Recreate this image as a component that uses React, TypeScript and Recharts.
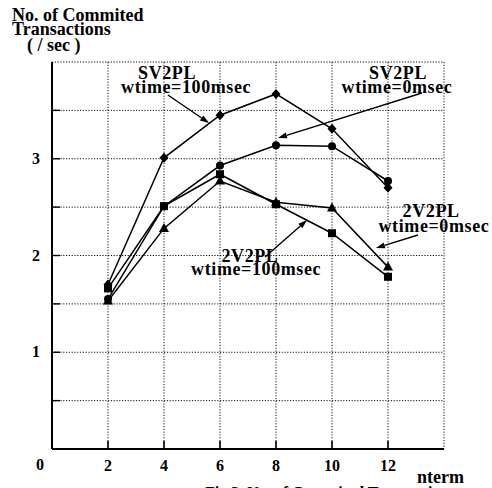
import { LineChart, Line, XAxis, YAxis, CartesianGrid, ReferenceLine, ReferenceDot } from 'recharts';

// values
const nterm = [2, 4, 6, 8, 10, 12];
const sv2pl100 = [1.7, 3.01, 3.45, 3.67, 3.31, 2.7];
const sv2pl0 = [1.55, 2.51, 2.93, 3.14, 3.13, 2.77];
const v2pl100 = [1.66, 2.51, 2.84, 2.53, 2.23, 1.78];
const v2pl0 = [1.53, 2.28, 2.77, 2.55, 2.49, 1.88];

const xTicks = [0, 2, 4, 6, 8, 10, 12, 14];
const yTicks = [0, 0.5, 1, 1.5, 2, 2.5, 3, 3.5, 4];
const yLabels = [1, 2, 3];

// annotation text lines, in data coordinates (middle of baseline)
const notes = [
  { text: 'SV2PL', x: 4.11, y: 3.824 },
  { text: 'wtime=100msec', x: 4.79, y: 3.68 },
  { text: 'SV2PL', x: 12.36, y: 3.824 },
  { text: 'wtime=0msec', x: 12.32, y: 3.68 },
  { text: '2V2PL', x: 13.54, y: 2.398 },
  { text: 'wtime=0msec', x: 13.64, y: 2.243 },
  { text: '2V2PL', x: 7.07, y: 1.932 },
  { text: 'wtime=100msec', x: 7.29, y: 1.798 },
];

const arrows = [
  [{ x: 4.14, y: 3.659 }, { x: 5.61, y: 3.369 }],
  [{ x: 13.21, y: 3.68 }, { x: 8.07, y: 3.214 }],
  [{ x: 13.07, y: 2.212 }, { x: 11.57, y: 2.078 }],
  [{ x: 7.61, y: 1.984 }, { x: 9.11, y: 2.367 }],
];

const data = nterm.map((n, i) => ({
  n,
  sv2pl100: sv2pl100[i],
  sv2pl0: sv2pl0[i],
  v2pl100: v2pl100[i],
  v2pl0: v2pl0[i],
}));

const FONT = '"Liberation Serif", "Times New Roman", serif';

const Diamond = ({ cx, cy }: any) => (
  <polygon points={`${cx},${cy - 5} ${cx + 4.5},${cy} ${cx},${cy + 5} ${cx - 4.5},${cy}`} fill="#000" />
);
const Dot = ({ cx, cy }: any) => <circle cx={cx} cy={cy} r={4} fill="#000" />;
const Square = ({ cx, cy }: any) => <rect x={cx - 4} y={cy - 4} width={8} height={8} fill="#000" />;
const Triangle = ({ cx, cy }: any) => (
  <polygon points={`${cx},${cy - 5.5} ${cx + 5},${cy + 3.5} ${cx - 5},${cy + 3.5}`} fill="#000" />
);

const XTick = ({ x, y, payload }: any) => {
  const v = payload.value;
  if (v === 14) return null;
  if (v === 0) {
    return (
      <text x={x - 12} y={y + 21} textAnchor="middle" fontFamily={FONT} fontWeight="bold" fontSize={16}>
        0
      </text>
    );
  }
  return (
    <g>
      <line x1={x} y1={y} x2={x} y2={y - 8} stroke="#000" strokeWidth={1.6} />
      <text x={x} y={y + 22} textAnchor="middle" fontFamily={FONT} fontWeight="bold" fontSize={16}>
        {v}
      </text>
    </g>
  );
};

const YTick = ({ x, y, payload }: any) => {
  const v = payload.value;
  if (v === 0 || v === 4) return null;
  return (
    <g>
      <line x1={x} y1={y} x2={x + 8} y2={y} stroke="#000" strokeWidth={1.4} />
      {yLabels.includes(v) && (
        <text x={x - 16} y={y + 5} textAnchor="middle" fontFamily={FONT} fontWeight="bold" fontSize={16}>
          {v}
        </text>
      )}
    </g>
  );
};

const Arrow = (props: any) => {
  const { x1, y1, x2, y2 } = props;
  if ([x1, y1, x2, y2].some((v) => typeof v !== 'number')) return null;
  const a = Math.atan2(y2 - y1, x2 - x1);
  const L = 9;
  const W = 3;
  const bx = x2 - L * Math.cos(a);
  const by = y2 - L * Math.sin(a);
  const px = -Math.sin(a) * W;
  const py = Math.cos(a) * W;
  return (
    <g>
      <line x1={x1} y1={y1} x2={bx} y2={by} stroke="#000" strokeWidth={1.4} />
      <polygon points={`${x2},${y2} ${bx + px},${by + py} ${bx - px},${by - py}`} fill="#000" />
    </g>
  );
};

const noteLabel = (text: string) => (props: any) => {
  const vb = props.viewBox || {};
  const cx = (vb.x ?? 0) + (vb.width ?? 0) / 2;
  const cy = (vb.y ?? 0) + (vb.height ?? 0) / 2;
  return (
    <text x={cx} y={cy} textAnchor="middle" fontFamily={FONT} fontWeight="bold" fontSize={18} letterSpacing={0.6}>
      {text}
    </text>
  );
};

const txt = { fontFamily: FONT, fontWeight: 'bold' as const, fontSize: 18 };

export default function App() {
  return (
    <div style={{ position: 'absolute', left: 0, top: 0, width: 492, height: 488, background: '#fff', overflow: 'hidden' }}>
      <LineChart width={492} height={488} data={data} margin={{ top: 62, right: 48, bottom: 9, left: 22 }}>
        <CartesianGrid stroke="#111" strokeDasharray="1.2 1.6" strokeWidth={1} />
        <XAxis
          dataKey="n"
          type="number"
          domain={[0, 14]}
          ticks={xTicks}
          height={30}
          tickSize={0}
          tickMargin={0}
          tickLine={false}
          axisLine={{ stroke: '#000', strokeWidth: 2 }}
          tick={<XTick />}
          interval={0}
        />
        <YAxis
          type="number"
          domain={[0, 4]}
          ticks={yTicks}
          width={30}
          tickSize={0}
          tickMargin={0}
          tickLine={false}
          axisLine={{ stroke: '#000', strokeWidth: 2 }}
          tick={<YTick />}
          interval={0}
        />
        <Line dataKey="sv2pl100" stroke="#000" strokeWidth={1.5} dot={<Diamond />} isAnimationActive={false} />
        <Line dataKey="sv2pl0" stroke="#000" strokeWidth={1.5} dot={<Dot />} isAnimationActive={false} />
        <Line dataKey="v2pl100" stroke="#000" strokeWidth={1.5} dot={<Square />} isAnimationActive={false} />
        <Line dataKey="v2pl0" stroke="#000" strokeWidth={1.5} dot={<Triangle />} isAnimationActive={false} />
        {arrows.map((seg, i) => (
          <ReferenceLine key={`a${i}`} segment={seg} ifOverflow="visible" shape={<Arrow />} />
        ))}
        {notes.map((n, i) => (
          <ReferenceDot
            key={`n${i}`}
            x={n.x}
            y={n.y}
            r={0}
            fill="none"
            stroke="none"
            ifOverflow="visible"
            label={noteLabel(n.text)}
          />
        ))}
      </LineChart>
      <svg width={492} height={488} style={{ position: 'absolute', left: 0, top: 0, pointerEvents: 'none' }}>
        <text x={12} y={21} {...txt}>No. of Commited</text>
        <text x={12} y={35} {...txt}>Transactions</text>
        <text x={27} y={51} {...txt}>( / sec )</text>
        <text x={417} y={483} {...txt}>nterm</text>
        <text x={205} y={498} {...txt} fontSize={16}>Fig.3. No. of Commited Transactions</text>
      </svg>
    </div>
  );
}
